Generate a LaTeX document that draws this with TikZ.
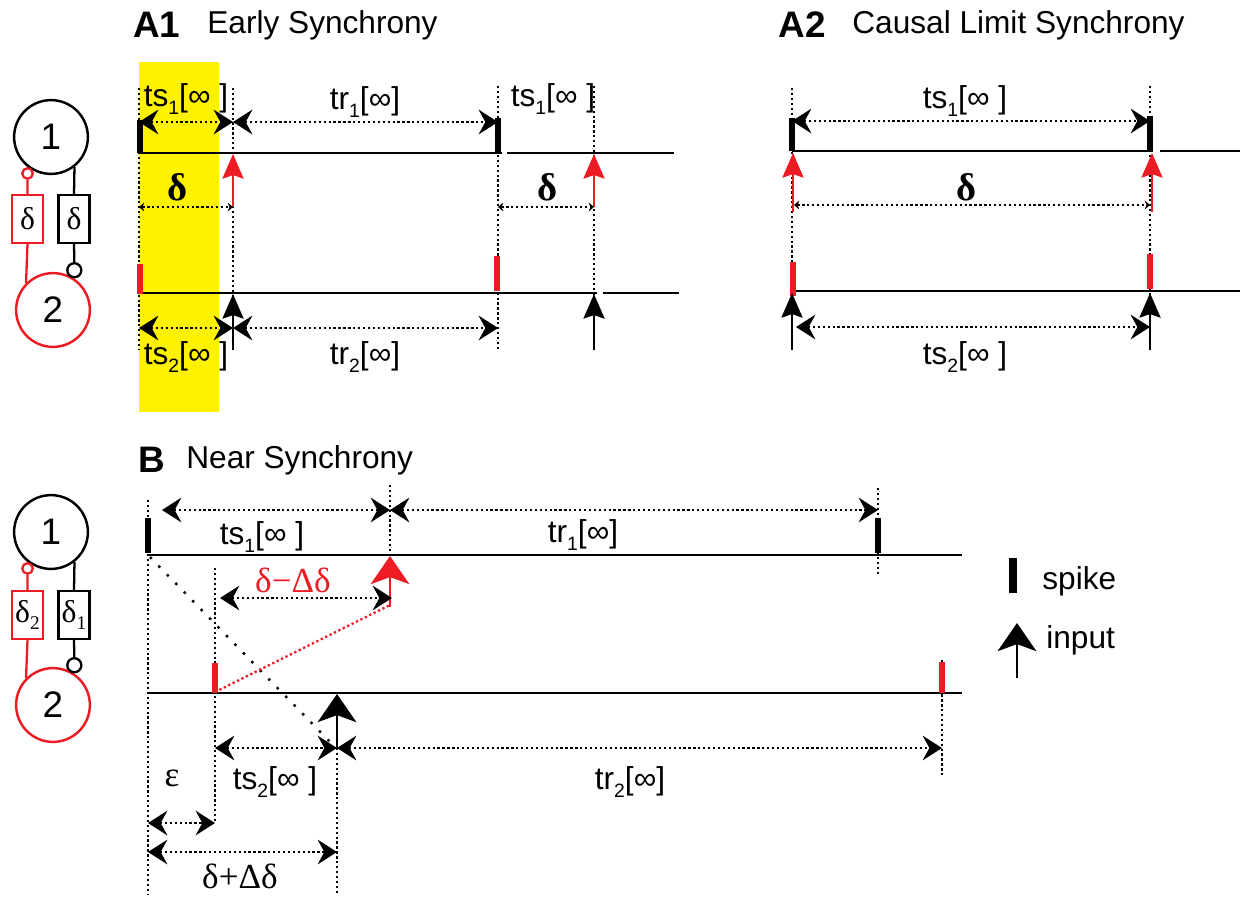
\documentclass[tikz,border=0pt]{standalone}
\usepackage{fontspec}
\setmainfont{Liberation Sans}
\newfontfamily\grk{Liberation Serif}
\usepackage{tikz}
\usetikzlibrary{arrows.meta}
\definecolor{SpikeRed}{RGB}{237, 28, 36}
\definecolor{HiYellow}{RGB}{255, 242, 0}
\newcommand{\lo}[1]{\raisebox{-0.45ex}{\fontsize{11}{11}\selectfont #1}}

\begin{document}
\begin{tikzpicture}[x=0.02cm, y=-0.02cm,
  lbl/.style={font=\fontsize{18}{20}\selectfont, inner sep=0pt},
  ttl/.style={font=\bfseries\fontsize{21}{24}\selectfont, inner sep=0pt, anchor=west},
  gk/.style={font=\grk\fontsize{20}{22}\selectfont, inner sep=0pt},
  bgk/.style={font=\grk\bfseries\fontsize{22}{24}\selectfont, inner sep=0pt},
  cell/.style={circle, draw, line width=1.4pt, minimum size=42pt, font=\fontsize{21}{24}\selectfont},
  dbox/.style={draw, line width=1.3pt, minimum width=17.5pt, minimum height=27pt, inner sep=0pt, font=\grk\fontsize{18}{20}\selectfont},
  syn/.style={circle, draw, line width=1.3pt, inner sep=0pt},
  tl/.style={line width=1.6pt},
  vd/.style={line width=1.3pt, dash pattern=on 1.3pt off 1.5pt},
  dim/.style={vd, {Stealth[length=11pt, width=14pt, inset=3.8pt]}-{Stealth[length=11pt, width=14pt, inset=3.8pt]}},
  sdim/.style={vd, {Stealth[length=3pt, width=5pt]}-{Stealth[length=3pt, width=5pt]}},
  spk/.style={line width=3.4pt},
  inp/.style={line width=1.3pt, -{Stealth[length=14pt, width=12pt, inset=2pt]}},
  binp/.style={line width=1.3pt, -{Stealth[length=16pt, width=22pt, inset=4pt]}}]
\useasboundingbox (0,0) rectangle (1240,897);

% networks
\node[cell] (n1a) at (51,137) {1};
\node[cell, SpikeRed, text=black] (n2a) at (53,310) {2};
\node[dbox, SpikeRed, text=black] (rda) at (27.5,219) {δ};
\node[dbox] (bda) at (74,219) {δ};
\node[syn, SpikeRed, minimum size=6pt, anchor=north] (rsa) at (n1a.232) {};
\node[syn, minimum size=8pt, anchor=south] (bsa) at (n2a.56) {};
\draw[SpikeRed, line width=1.3pt] (rsa.south) -- (rda.north); \draw[SpikeRed, line width=1.3pt] (rda.south) -- (n2a.north west);
\draw[line width=1.3pt] (n1a.308) -- (bda.north); \draw[line width=1.3pt] (bda.south) -- (bsa.north);

\node[cell] (n1b) at (51,532) {1};
\node[cell, SpikeRed, text=black] (n2b) at (53,705) {2};
\node[dbox, SpikeRed, text=black] (rdb) at (27.5,615) {δ\lo{2}};
\node[dbox] (bdb) at (74,615) {δ\lo{1}};
\node[syn, SpikeRed, minimum size=6pt, anchor=north] (rsb) at (n1b.232) {};
\node[syn, minimum size=8pt, anchor=south] (bsb) at (n2b.56) {};
\draw[SpikeRed, line width=1.3pt] (rsb.south) -- (rdb.north); \draw[SpikeRed, line width=1.3pt] (rdb.south) -- (n2b.north west);
\draw[line width=1.3pt] (n1b.308) -- (bdb.north); \draw[line width=1.3pt] (bdb.south) -- (bsb.north);

% A1
\fill[HiYellow] (139,62) rectangle (219,412);
\node[ttl] (a1) at (133,25) {A1};
\node[lbl, anchor=west] (a1t) at (207,25) {Early Synchrony};
\draw[vd] (139,88) -- (139,350); \draw[vd] (233,88) -- (233,350); \draw[vd] (498,86) -- (498,350); \draw[vd] (594,86) -- (594,296);
\draw[tl] (139,153) -- (502,153); \draw[tl] (507,153) -- (674,153);
\draw[tl] (139,293) -- (597,293); \draw[tl] (603,293) -- (679,293);
\draw[spk] (140,120) -- (140,153); \draw[spk] (498,118) -- (498,153);
\draw[spk, SpikeRed] (140,264) -- (140,294); \draw[spk, SpikeRed] (497,256) -- (497,291);
\draw[inp, SpikeRed] (233,207) -- (233,154); \draw[inp, SpikeRed] (594,207) -- (594,154);
\draw[inp] (233,350) -- (233,294); \draw[inp] (594,350) -- (594,294);
\draw[dim] (139,122) -- (233,122); \draw[dim] (233,122) -- (498,122);
\draw[dim] (139,328) -- (233,328); \draw[dim] (233,328) -- (498,328);
\draw[sdim] (139,207) -- (233,207); \draw[sdim] (498,207) -- (594,207);
\node[lbl] (ts1a) at (186,99) {ts\lo{1}[∞ ]};
\node[lbl] (tr1a) at (365,102) {tr\lo{1}[∞]};
\node[lbl] (ts1b) at (553,99) {ts\lo{1}[∞ ]};
\node[bgk] (da) at (178,187) {δ};
\node[bgk] (db) at (548,187) {δ};
\node[lbl] (ts2a) at (186,357) {ts\lo{2}[∞ ]};
\node[lbl] (tr2a) at (365,357) {tr\lo{2}[∞]};

% A2
\node[ttl] (a2) at (778,25) {A2};
\node[lbl, anchor=west] (a2t) at (852,25) {Causal Limit Synchrony};
\draw[vd] (792,88) -- (792,348); \draw[vd] (1150,86) -- (1150,348);
\draw[tl] (792,151) -- (1153,151); \draw[tl] (1160,151) -- (1240,151);
\draw[tl] (792,291) -- (1240,291);
\draw[spk] (792,118) -- (792,151); \draw[spk] (1150,116) -- (1150,151);
\draw[spk, SpikeRed] (793,262) -- (793,296); \draw[spk, SpikeRed] (1150,254) -- (1150,289);
\draw[inp, SpikeRed] (793,212) -- (793,153); \draw[inp, SpikeRed] (1152,212) -- (1152,153);
\draw[inp] (792,350) -- (792,293); \draw[inp] (1150,350) -- (1150,293);
\draw[dim] (792,121) -- (1150,121);
\draw[sdim] (794,205) -- (1150,205);
\draw[dim] (796,327) -- (1150,327);
\node[lbl] (ts1c) at (965,101) {ts\lo{1}[∞ ]};
\node[bgk] (dc) at (967,187) {δ};
\node[lbl] (ts2c) at (965,357) {ts\lo{2}[∞ ]};

% B
\node[ttl] (b) at (138,460) {B};
\node[lbl, anchor=west] (bt) at (186,460) {Near Synchrony};
\draw[vd] (148,500) -- (148,895); \draw[vd] (390,485) -- (390,555); \draw[vd] (878,488) -- (878,575);
\draw[vd] (215,568) -- (215,822); \draw[vd] (337,748) -- (337,895); \draw[vd] (942,660) -- (942,775);
\draw[tl] (148,555) -- (962,555); \draw[tl] (148,693) -- (962,693);
\draw[spk, line width=3pt] (148,518) -- (148,553); \draw[spk, line width=3pt] (878,518) -- (878,553);
\draw[spk, line width=3pt, SpikeRed] (215,663) -- (215,693); \draw[spk, line width=3pt, SpikeRed] (942,662) -- (942,693);
\draw[vd, line width=1.4pt, dash pattern=on 1.4pt off 5.5pt] (150,557) -- (333,745);
\draw[vd, SpikeRed] (215,692) -- (390,605);
\draw[binp, SpikeRed] (390,607) -- (390,556);
\draw[binp] (337,748) -- (337,694);
\draw[dim] (162,510) -- (390,510); \draw[dim] (390,510) -- (878,510);
\draw[dim] (220,598) -- (392,598);
\draw[dim] (215,748) -- (337,748); \draw[dim] (337,748) -- (942,748);
\draw[dim] (148,823) -- (215,823); \draw[dim] (148,852) -- (337,852);
\node[lbl] (ts1d) at (262,537) {ts\lo{1}[∞ ]};
\node[lbl] (tr1d) at (583,535) {tr\lo{1}[∞]};
\node[gk, SpikeRed] (dmd) at (293,580) {δ−Δδ};
\node[lbl] (ts2d) at (275,782) {ts\lo{2}[∞ ]};
\node[lbl] (tr2d) at (630,782) {tr\lo{2}[∞]};
\node[gk] (eps) at (172,778) {ε};
\node[gk] (dpd) at (240,876) {δ+Δδ};

% legend
\draw[spk, line width=4.5pt] (1013,558) -- (1013,593);
\node[lbl, anchor=west] (lsp) at (1042,581) {spike};
\draw[binp] (1017,678) -- (1017,623);
\node[lbl, anchor=west] (lin) at (1046,640) {input};
\end{tikzpicture}
\end{document}
